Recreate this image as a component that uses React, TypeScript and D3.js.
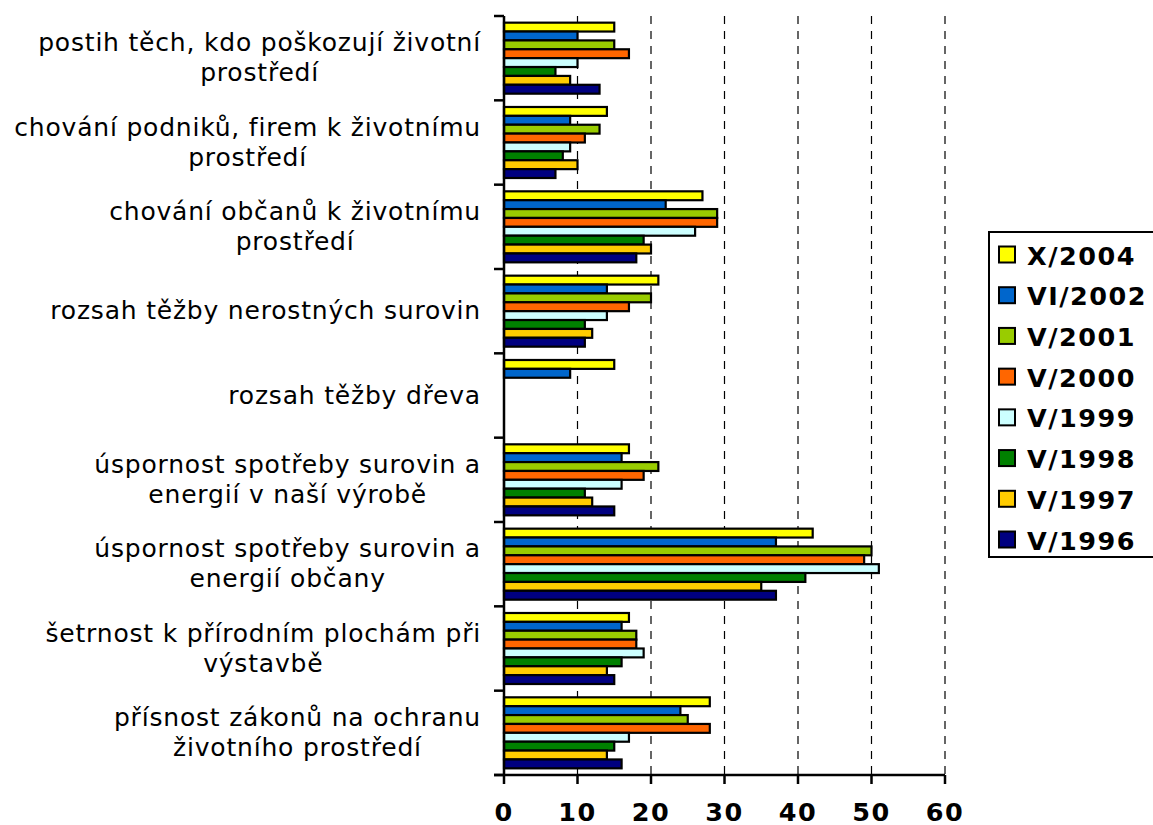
import React, { useEffect, useRef } from "react";
import * as d3 from "d3";

const categories: string[][] = [
  ["postih těch, kdo poškozují životní", "prostředí"],
  ["chování podniků, firem k životnímu", "prostředí"],
  ["chování občanů k životnímu", "prostředí"],
  ["rozsah těžby nerostných surovin"],
  ["rozsah těžby dřeva"],
  ["úspornost spotřeby surovin a", "energií v naší výrobě"],
  ["úspornost spotřeby surovin a", "energií občany"],
  ["šetrnost k přírodním plochám při", "výstavbě"],
  ["přísnost zákonů na ochranu", "životního prostředí"],
];

const seriesNames = ["X/2004", "VI/2002", "V/2001", "V/2000", "V/1999", "V/1998", "V/1997", "V/1996"];
const seriesColors = ["#FFFF00", "#0066CC", "#99CC00", "#FF6600", "#CCFFFF", "#008000", "#FFCC00", "#000080"];

const x2004 = [15, 14, 27, 21, 15, 17, 42, 17, 28];
const vi2002 = [10, 9, 22, 14, 9, 16, 37, 16, 24];
const v2001 = [15, 13, 29, 20, null, 21, 50, 18, 25];
const v2000 = [17, 11, 29, 17, null, 19, 49, 18, 28];
const v1999 = [10, 9, 26, 14, null, 16, 51, 19, 17];
const v1998 = [7, 8, 19, 11, null, 11, 41, 16, 15];
const v1997 = [9, 10, 20, 12, null, 12, 35, 14, 14];
const v1996 = [13, 7, 18, 11, null, 15, 37, 15, 16];

const seriesValues: (number | null)[][] = [x2004, vi2002, v2001, v2000, v1999, v1998, v1997, v1996];

const xTicks = [0, 10, 20, 30, 40, 50, 60];

const W = 1153;
const H = 825;

export default function App() {
  const ref = useRef<SVGSVGElement>(null);

  useEffect(() => {
    const svg = d3.select(ref.current);
    svg.selectAll("*").remove();

    const left = 504;
    const right = 945;
    const top = 16;
    const bottom = 775;
    const font = "Verdana, 'DejaVu Sans', sans-serif";

    const x = d3.scaleLinear().domain([0, 60]).range([left, right]);
    const y = d3.scaleBand<number>().domain(d3.range(categories.length)).range([top, bottom]).padding(0);
    const yInner = d3
      .scaleBand<number>()
      .domain(d3.range(seriesNames.length))
      .range([0, y.bandwidth()])
      .paddingInner(0)
      .paddingOuter(0.75);

    // gridlines
    svg
      .append("g")
      .selectAll("line")
      .data(xTicks.filter((t) => t > 0))
      .join("line")
      .attr("x1", (d) => x(d))
      .attr("x2", (d) => x(d))
      .attr("y1", top)
      .attr("y2", bottom)
      .attr("stroke", "#000")
      .attr("stroke-width", 1.2)
      .attr("stroke-dasharray", "8,7");

    // bars
    const bars: { c: number; s: number; v: number }[] = [];
    seriesValues.forEach((arr, s) =>
      arr.forEach((v, c) => {
        if (v !== null && v !== undefined) bars.push({ c, s, v });
      })
    );
    svg
      .append("g")
      .selectAll("rect")
      .data(bars)
      .join("rect")
      .attr("x", x(0))
      .attr("y", (d) => (y(d.c) as number) + (yInner(d.s) as number))
      .attr("width", (d) => x(d.v) - x(0))
      .attr("height", yInner.bandwidth())
      .attr("fill", (d) => seriesColors[d.s])
      .attr("stroke", "#000")
      .attr("stroke-width", 2.2);

    // axes
    const ax = svg.append("g");
    ax.append("line")
      .attr("x1", left)
      .attr("x2", left)
      .attr("y1", top)
      .attr("y2", bottom)
      .attr("stroke", "#000")
      .attr("stroke-width", 2.5);
    ax.append("line")
      .attr("x1", left - 10)
      .attr("x2", right)
      .attr("y1", bottom)
      .attr("y2", bottom)
      .attr("stroke", "#000")
      .attr("stroke-width", 2.5);
    ax.selectAll("line.yt")
      .data(d3.range(categories.length + 1))
      .join("line")
      .attr("class", "yt")
      .attr("x1", left - 10)
      .attr("x2", left)
      .attr("y1", (i) => top + i * y.step())
      .attr("y2", (i) => top + i * y.step())
      .attr("stroke", "#000")
      .attr("stroke-width", 2.5);
    ax.selectAll("line.xt")
      .data(xTicks)
      .join("line")
      .attr("class", "xt")
      .attr("x1", (d) => x(d))
      .attr("x2", (d) => x(d))
      .attr("y1", bottom)
      .attr("y2", bottom + 9)
      .attr("stroke", "#000")
      .attr("stroke-width", 2.5);
    ax.selectAll("text.xl")
      .data(xTicks)
      .join("text")
      .attr("class", "xl")
      .attr("x", (d) => x(d))
      .attr("y", 821)
      .attr("text-anchor", "middle")
      .attr("font-family", font)
      .attr("font-weight", "bold")
      .attr("font-size", 25.5)
      .attr("letter-spacing", 1.5)
      .text((d) => String(d));

    // category labels
    const lineH = 30;
    const labelRight = 481;
    categories.forEach((lines, i) => {
      const g = svg.append("g");
      const cy = (y(i) as number) + y.bandwidth() / 2;
      const texts = lines.map((ln, j) =>
        g
          .append("text")
          .attr("y", cy + (j - (lines.length - 1) / 2) * lineH + 8)
          .attr("text-anchor", "middle")
          .attr("font-family", font)
          .attr("font-size", 25)
          .attr("letter-spacing", 0.8)
          .attr("fill", "#000")
          .text(ln)
      );
      const widths = texts.map((t) => (t.node() as SVGTextElement).getComputedTextLength());
      const maxW = d3.max(widths) || 0;
      texts.forEach((t) => t.attr("x", labelRight - maxW / 2));
    });

    // legend
    const lg = svg.append("g");
    lg.append("rect")
      .attr("x", 989)
      .attr("y", 232)
      .attr("width", 180)
      .attr("height", 325)
      .attr("fill", "#fff")
      .attr("stroke", "#000")
      .attr("stroke-width", 2);
    const ly = d3.scalePoint<number>().domain(d3.range(seriesNames.length)).range([255, 540]);
    seriesNames.forEach((name, i) => {
      const cy = ly(i) as number;
      lg.append("rect")
        .attr("x", 999)
        .attr("y", cy - 8.5)
        .attr("width", 16)
        .attr("height", 16)
        .attr("fill", seriesColors[i])
        .attr("stroke", "#000")
        .attr("stroke-width", 2);
      lg.append("text")
        .attr("x", 1027)
        .attr("y", cy + 9.5)
        .attr("font-family", font)
        .attr("font-weight", "bold")
        .attr("font-size", 25.5)
        .attr("letter-spacing", 1.5)
        .text(name);
    });
  }, []);

  return (
    <svg
      ref={ref}
      width={W}
      height={H}
      style={{ position: "absolute", left: 0, top: 0, background: "#fff" }}
    />
  );
}
